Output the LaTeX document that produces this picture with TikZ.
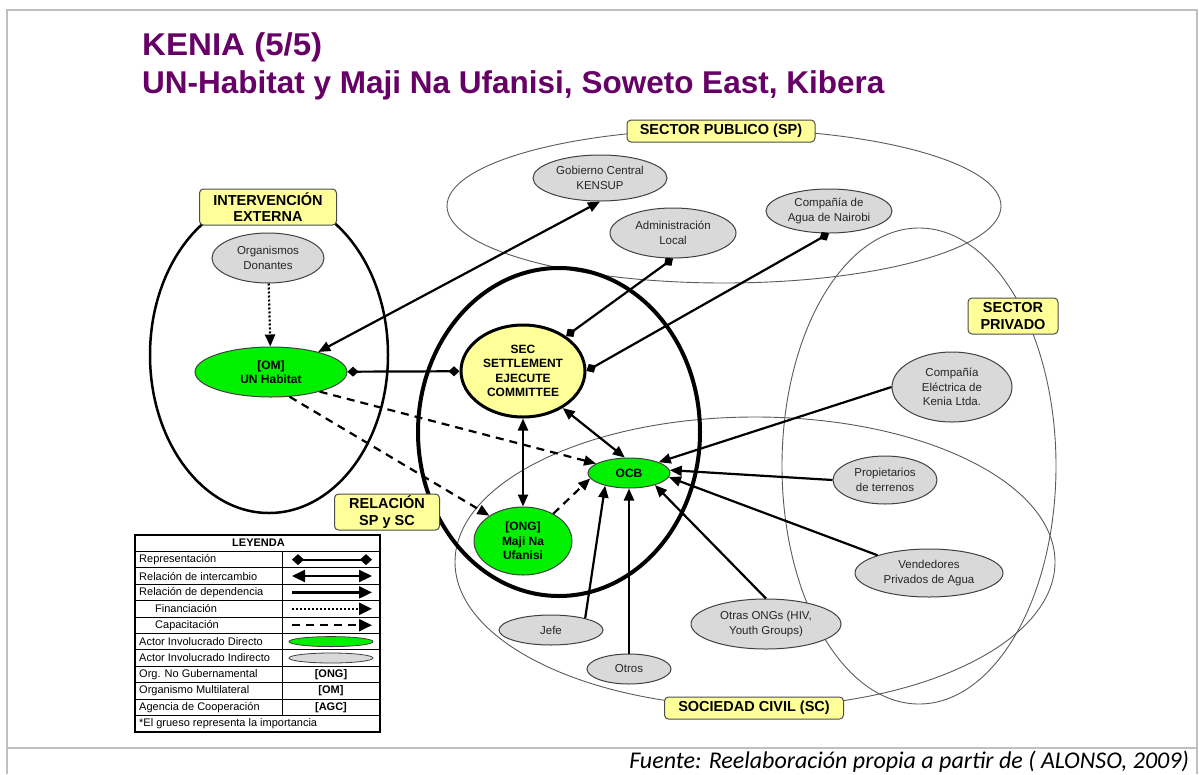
\documentclass[tikz,border=0pt]{standalone}
\usepackage{fontspec}
\setmainfont{Liberation Sans}
\newfontfamily\capfont{Carlito}
\usetikzlibrary{arrows.meta,shapes.geometric}
\definecolor{ttl}{RGB}{102,0,102}
\definecolor{lblfill}{RGB}{255,255,153}
\definecolor{grn}{RGB}{0,240,0}
\definecolor{gryfill}{RGB}{217,217,217}
\definecolor{framec}{RGB}{192,192,192}
\definecolor{thinc}{RGB}{90,90,90}
\tikzset{
  sector/.style={ellipse, draw=thinc, line width=0.9pt, inner sep=0pt},
  indirect/.style={ellipse, draw=black!75, fill=gryfill, line width=1pt, inner sep=0pt, align=center, font=\fontsize{11.5}{14.5}\selectfont, text=black!85},
  direct/.style={ellipse, draw=black!75, fill=grn, line width=1pt, inner sep=0pt, align=center, font=\fontsize{12}{14.5}\selectfont\bfseries},
  lbl/.style={draw=black!70, fill=lblfill, rounded corners=4pt, line width=1pt, align=center, font=\fontsize{14.5}{16.5}\selectfont\bfseries, inner sep=0pt},
  dep/.style={line width=2.2pt, -{Triangle[length=12pt,width=10pt]}},
  xch/.style={line width=2.2pt, {Triangle[length=12pt,width=10pt]}-{Triangle[length=12pt,width=10pt]}},
  rep/.style={line width=2.2pt, {Diamond[length=11pt,width=10pt]}-{Diamond[length=11pt,width=10pt]}},
  fin/.style={dep, dash pattern=on 2pt off 2pt},
  capac/.style={dep, dash pattern=on 8pt off 6pt},
  lgtext/.style={anchor=west, inner sep=0pt, font=\fontsize{11}{12}\selectfont},
  lgsym/.style={inner sep=0pt, font=\fontsize{11}{12}\selectfont\bfseries},
  lgarr/.style={arrows={-{Triangle[length=13pt,width=12pt]}}},
}
\begin{document}
\begin{tikzpicture}[x=1pt,y=-1pt]
\useasboundingbox (0,0) rectangle (1199,774);
% frame
\draw[framec, line width=2.5pt] (7,774) -- (7,10) -- (1197,10) -- (1197,774);
\draw[framec, line width=2.5pt] (7,748) -- (1197,748);
% title
\node[anchor=west, inner sep=0pt, text=ttl, font=\fontsize{31.5}{33}\selectfont\bfseries] (t1) at (142,47) {\scalebox{1.05}[1]{KENIA (5/5)}};
\node[anchor=west, inner sep=0pt, text=ttl, font=\fontsize{31.5}{33}\selectfont\bfseries] (t2) at (142,85) {UN-Habitat y Maji Na Ufanisi, Soweto East, Kibera};
% sectors
\node[sector, minimum width=554pt, minimum height=154pt] (sp) at (724,206) {};
\node[sector, minimum width=274pt, minimum height=476pt] (spriv) at (919,466) {};
\node[sector, minimum width=600pt, minimum height=290pt] (sc) at (755,562) {};
\node[ellipse, draw, line width=2.5pt, minimum width=238pt, minimum height=316pt, inner sep=0pt] (ie) at (269,355) {};
\node[ellipse, draw, line width=4pt, minimum width=282pt, minimum height=328pt, inner sep=0pt] (rel) at (559,432) {};
% labels
\node[lbl, minimum width=188pt, minimum height=22pt] (lsp) at (721,131) {SECTOR PUBLICO (SP)};
\node[lbl, minimum width=137pt, minimum height=36pt] (lie) at (268,207) {INTERVENCIÓN\\EXTERNA};
\node[lbl, minimum width=90pt, minimum height=36pt] (lpriv) at (1013,316) {SECTOR\\PRIVADO};
\node[lbl, minimum width=105pt, minimum height=36pt] (lrel) at (387,512) {RELACIÓN\\SP y SC};
\node[lbl, minimum width=179pt, minimum height=22pt] (lsc) at (754,708) {SOCIEDAD CIVIL (SC)};
% actors
\node[indirect, minimum width=112pt, minimum height=50pt] (don) at (268,258) {Organismos\\Donantes};
\node[direct, minimum width=152pt, minimum height=50pt] (un) at (271,372) {[OM]\\UN Habitat};
\node[ellipse, draw, fill=lblfill, line width=3pt, minimum width=124pt, minimum height=92pt, inner sep=0pt, align=center, font=\fontsize{12}{14.3}\selectfont\bfseries] (sec) at (523,371) {SEC\\SETTLEMENT\\EJECUTE\\COMMITTEE};
\node[direct, minimum width=82pt, minimum height=30pt] (ocb) at (629,473) {OCB};
\node[direct, minimum width=98pt, minimum height=68pt] (maji) at (523,541) {[ONG]\\Maji Na\\Ufanisi};
\node[indirect, minimum width=134pt, minimum height=46pt] (gob) at (600,178) {Gobierno Central\\KENSUP};
\node[indirect, minimum width=126pt, minimum height=50pt] (adm) at (673,233) {Administración\\Local};
\node[indirect, minimum width=126pt, minimum height=44pt] (agua) at (829,211) {Compañía de\\Agua de Nairobi};
\node[indirect, minimum width=120pt, minimum height=70pt] (elec) at (952,387) {Compañía\\Eléctrica de\\Kenia Ltda.};
\node[indirect, minimum width=104pt, minimum height=48pt] (prop) at (885,480) {Propietarios\\de terrenos};
\node[indirect, minimum width=148pt, minimum height=48pt] (vend) at (929,573) {Vendedores\\Privados de Agua};
\node[indirect, minimum width=104pt, minimum height=30pt] (jefe) at (551,630) {Jefe};
\node[indirect, minimum width=84pt, minimum height=30pt] (otros) at (629,669) {Otros};
\node[indirect, minimum width=150pt, minimum height=50pt] (ongs) at (766,624) {Otras ONGs (HIV,\\Youth Groups)};
% connectors
\draw[fin] (don) -- (un);
\draw[rep] (un) -- (sec);
\draw[xch] (un.23) -- (gob.south);
\draw[rep] (sec.39) -- (adm.south);
\draw[rep] (sec.east) -- (agua.south);
\draw[xch] (sec.-43) -- (ocb.105);
\draw[xch] (sec.south) -- (maji.north);
\draw[capac] (un.-22) -- (ocb.164);
\draw[capac] (un.-53) -- (maji.143);
\draw[capac] (maji.42) -- (ocb.188);
\draw[dep] (elec.west) -- (ocb.20);
\draw[dep] (prop.west) -- (ocb.4);
\draw[dep] (vend.161) -- (ocb.-6);
\draw[dep] (ongs.north) -- (ocb.-25);
\draw[dep] (otros.north) -- (ocb.south);
\draw[dep] (jefe.19) -- (ocb.-152);
% legend
\fill[white] (135,535) rectangle (380,731.8);
\foreach \k in {1,...,11} \draw[line width=0.9pt] (135,535+16.4*\k) -- (380,535+16.4*\k);
\draw[line width=0.9pt] (282,551.4) -- (282,715.4);
\draw[line width=1.6pt] (135,535) rectangle (380,731.8);
\node[inner sep=0pt, font=\fontsize{11}{12}\selectfont\bfseries] (lgh) at (258.5,543.2) {LEYENDA};
\node[lgtext] (lg1) at (139,559.6) {Representación};
\node[lgtext] (lg2) at (139,576.0) {Relación de intercambio};
\node[lgtext] (lg3) at (139,592.4) {Relación de dependencia};
\node[lgtext] (lg4) at (155,608.8) {Financiación};
\node[lgtext] (lg5) at (155,625.2) {Capacitación};
\node[lgtext] (lg6) at (139,641.6) {Actor Involucrado Directo};
\node[lgtext] (lg7) at (139,658.0) {Actor Involucrado Indirecto};
\node[lgtext] (lg8) at (139,674.4) {Org. No Gubernamental};
\node[lgtext] (lg9) at (139,690.8) {Organismo Multilateral};
\node[lgtext] (lg10) at (139,707.2) {Agencia de Cooperación};
\node[lgtext] (lg11) at (139,723.6) {*El grueso representa la importancia};
\foreach \r/\y in {1/559.6,2/576.0,3/592.4,4/608.8,5/625.2} {
  \coordinate (la\r) at (292,\y);
  \coordinate (lb\r) at (372,\y);
}
\draw[line width=2.2pt, {Diamond[length=12pt,width=11pt]}-{Diamond[length=12pt,width=11pt]}] (la1) -- (lb1);
\draw[line width=2.2pt, {Triangle[length=13pt,width=12pt]}-{Triangle[length=13pt,width=12pt]}] (la2) -- (lb2);
\draw[line width=2.2pt, lgarr] (la3) -- (lb3);
\draw[line width=2.2pt, lgarr, dash pattern=on 2pt off 2pt] (la4) -- (lb4);
\draw[line width=2.2pt, lgarr, dash pattern=on 8pt off 6pt] (la5) -- (lb5);
\node[ellipse, draw=black!75, fill=grn, line width=0.8pt, minimum width=84pt, minimum height=10pt, inner sep=0pt] (lge1) at (331,641.6) {};
\node[ellipse, draw=black!75, fill=gryfill, line width=0.8pt, minimum width=84pt, minimum height=10pt, inner sep=0pt] (lge2) at (331,658.0) {};
\node[lgsym] (lgs1) at (331,674.4) {[ONG]};
\node[lgsym] (lgs2) at (331,690.8) {[OM]};
\node[lgsym] (lgs3) at (331,707.2) {[AGC]};
% caption
\node[anchor=east, inner sep=0pt, font=\capfont\itshape\fontsize{24}{26}\selectfont] (cap1) at (1189,762) {Fuente: Reelaboración propia a partir de ( ALONSO, 2009)};
\end{tikzpicture}
\end{document}
